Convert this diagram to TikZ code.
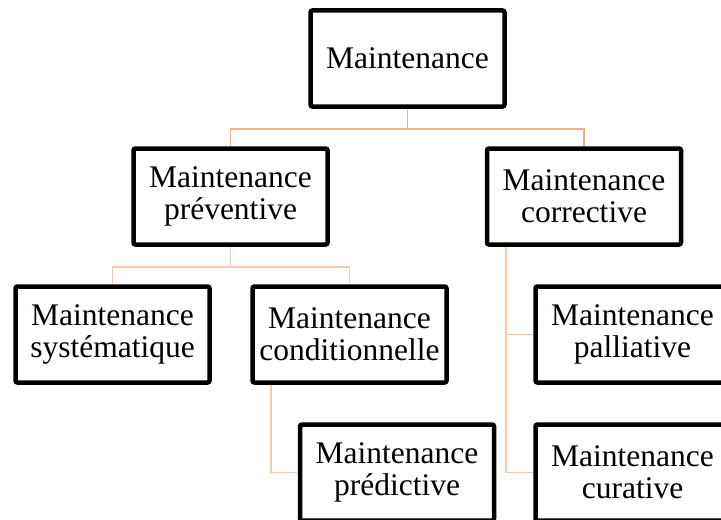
\documentclass[tikz,border=0pt]{standalone}
\usepackage{fontspec}
\setmainfont{Liberation Serif}
\usepackage{tikz}
\usetikzlibrary{positioning}
\definecolor{naranja}{HTML}{F4B183}
\definecolor{naranjaclaro}{HTML}{F8CBAD}
\tikzset{
	node distance=69pt, % Distancia vertical entre niveles
	caja/.style={draw, line width=2.25pt, rounded corners=1pt, minimum width=97pt, minimum height=48pt, inner sep=1pt, align=center, font=\fontsize{15.75}{16}\selectfont}, % Propiedades de las cajas
	enlace/.style={draw=naranja, line width=0.8pt}, % Lineas del primer nivel
	enlace2/.style={draw=naranjaclaro, line width=0.8pt} % Lineas de los demas niveles
}

\begin{document}
\begin{tikzpicture}
			\useasboundingbox (0,0) rectangle (360.5pt,-259.5pt);
			\node[caja] (mnt) at (203.75pt,-29.25pt) {Maintenance};
			\node[caja, below of=mnt, xshift=-88.5pt] (prev) {Maintenance\\préventive};
			\node[caja, below of=mnt, xshift=88.25pt] (corr) {Maintenance\\corrective};
			\node[caja, below of=prev, xshift=-59pt] (syst) {Maintenance\\systématique};
			\node[caja, below of=prev, xshift=59.5pt] (cond) {Maintenance\\conditionnelle};
			\node[caja, below of=cond, xshift=23.75pt] (pred) {Maintenance\\prédictive};
			\node[caja, below of=corr, xshift=24.25pt] (pall) {Maintenance\\palliative};
			\node[caja, below of=pall] (cur) {Maintenance\\curative};
			\draw[enlace]	(mnt.south) -- ++(0,-10pt) -| (prev.north)
					(mnt.south) -- ++(0,-10pt) -| (corr.north)
					;
			\draw[enlace2]	(prev.south) -- ++(0,-10pt) -| (syst.north)
					(prev.south) -- ++(0,-10pt) -| (cond.north)
					([xshift=10.5pt]cond.south west) |- (pred.west)
					([xshift=10.5pt]corr.south west) |- (pall.west)
					([xshift=10.5pt]corr.south west) |- (cur.west)
					;
\end{tikzpicture}
\end{document}
